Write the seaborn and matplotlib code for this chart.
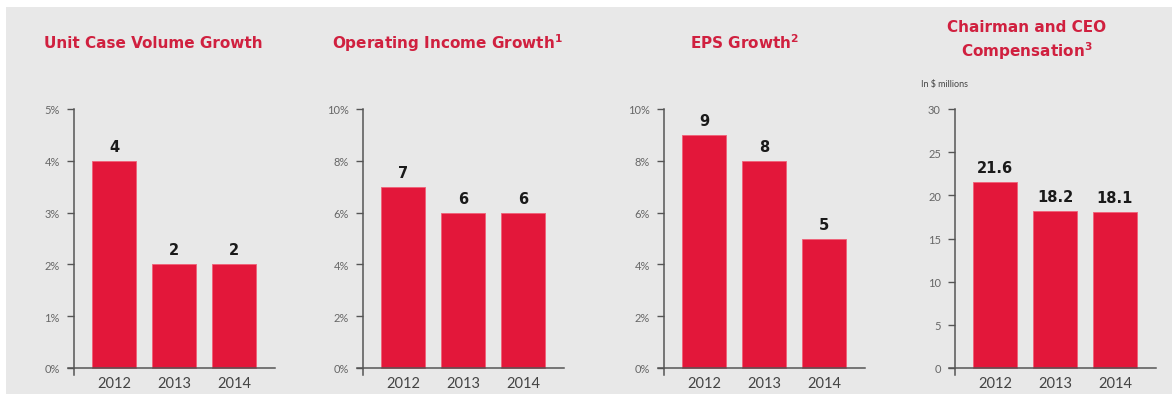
import matplotlib
matplotlib.use("Agg")
import matplotlib.pyplot as plt
import seaborn as sns
import pandas as pd
from matplotlib.patches import Rectangle

# chart data
years = ["2012", "2013", "2014"]
unit_case = [4, 2, 2]
op_income = [7, 6, 6]
eps = [9, 8, 5]
ceo_comp = [21.6, 18.2, 18.1]

titles = ["Unit Case Volume Growth", r"Operating Income Growth$^{\mathbf{1}}$",
          r"EPS Growth$^{\mathbf{2}}$", "Chairman and CEO\n" + r"Compensation$^{\mathbf{3}}$"]
bar_labels = [["4", "2", "2"], ["7", "6", "6"], ["9", "8", "5"], ["21.6", "18.2", "18.1"]]
yticks = [[0, 1, 2, 3, 4, 5], [0, 2, 4, 6, 8, 10], [0, 2, 4, 6, 8, 10], [0, 5, 10, 15, 20, 25, 30]]
ytick_labels = [[f"{t}%" for t in yticks[0]], [f"{t}%" for t in yticks[1]],
                [f"{t}%" for t in yticks[2]], [str(t) for t in yticks[3]]]
series = [unit_case, op_income, eps, ceo_comp]

sns.set_style("white")
plt.rcParams["font.family"] = ["Lato", "DejaVu Sans"]

W, H = 1172, 402
fig = plt.figure(figsize=(W / 100, H / 100), dpi=100, facecolor="white")
fig.patches.append(Rectangle((6 / W, 7 / H), 1 - 6 / W, (394 - 7) / H,
                             transform=fig.transFigure, facecolor="#e8e8e8",
                             edgecolor="none", zorder=-10))

bar_red = "#e3173a"
title_red = "#d0203f"
axis_gray = "#555555"

first_bar_px = [114, 403, 704, 995]
title_px = [(153, 43), (447, 43), (745, 43), (1027, 41)]
step = 60
xlo, xhi = -0.77, 2.68
zero_px, top_px = 369, 110

for k in range(4):
    top = yticks[k][-1]
    ylo = -top * 6.5 / (zero_px - top_px)
    left_px = first_bar_px[k] + xlo * step
    width_px = (xhi - xlo) * step
    bottom_px = zero_px + (zero_px - top_px) * (-ylo / top)
    height_px = bottom_px - top_px
    ax = fig.add_axes([left_px / W, (H - bottom_px) / H, width_px / W, height_px / H])
    ax.set_facecolor("none")

    df = pd.DataFrame({"year": years, "value": series[k]})
    sns.barplot(data=df, x="year", y="value", color=bar_red, saturation=1,
                width=0.72, ax=ax, edgecolor="#f06078", linewidth=0.6)

    ax.set_xlim(xlo, xhi)
    ax.set_ylim(ylo, top)
    ax.set_xlabel("")
    ax.set_ylabel("")
    for s in ["top", "right"]:
        ax.spines[s].set_visible(False)
    ax.spines["left"].set_position(("data", -0.67))
    ax.spines["bottom"].set_position(("data", 0))
    for s in ["left", "bottom"]:
        ax.spines[s].set_color(axis_gray)
        ax.spines[s].set_linewidth(1.1)
    ax.spines["bottom"].set_zorder(3)

    ax.set_yticks(yticks[k])
    ax.set_yticklabels(ytick_labels[k])
    ax.tick_params(axis="y", left=True, length=5, width=1, color=axis_gray, pad=5,
                   labelsize=8, labelcolor="#666666", direction="out")
    ax.tick_params(axis="x", bottom=False, length=0, pad=6, labelsize=10.5,
                   labelcolor="#444444")

    for i, v in enumerate(series[k]):
        ax.annotate(bar_labels[k][i], (i, v), xytext=(0, 5), textcoords="offset points",
                    ha="center", va="bottom", fontsize=10.5, fontweight="bold",
                    color="#1a1a1a", family="DejaVu Sans")

    tx, ty = title_px[k]
    fig.text(tx / W, 1 - ty / H, titles[k], ha="center", va="center", fontsize=11,
             fontweight="bold", color=title_red, linespacing=1.35, family="DejaVu Sans")

fig.text(921 / W, 1 - 85 / H, "In $ millions", ha="left", va="center",
         fontsize=6.5, color="#444444")

fig.savefig("out.png", dpi=100, facecolor=fig.get_facecolor())
